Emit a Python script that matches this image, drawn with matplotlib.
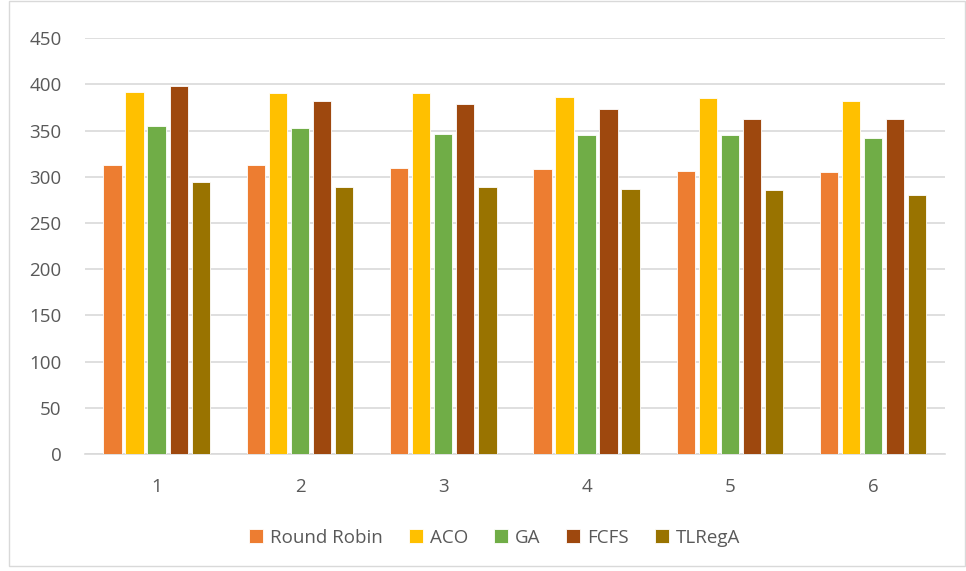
import matplotlib.pyplot as plt
import numpy as np
from matplotlib.patches import Rectangle

# Per-run values for each scheduling algorithm
runs = [1, 2, 3, 4, 5, 6]
round_robin = [313, 312.5, 309.5, 308, 306.5, 305.5]
aco = [392, 390.5, 390.5, 386, 385.5, 382]
ga = [355, 353, 346, 345.5, 345, 342.5]
fcfs = [398, 382.5, 378.5, 373.5, 363, 362.5]
tlrega = [294.5, 289, 289, 287, 286, 280.5]

series = [
    ("Round Robin", round_robin, "#ED7D31"),
    ("ACO", aco, "#FFC000"),
    ("GA", ga, "#70AD47"),
    ("FCFS", fcfs, "#9E480E"),
    ("TLRegA", tlrega, "#997300"),
]

plt.rcParams['font.family'] = ['Open Sans', 'DejaVu Sans']
text_color = "#595959"

fig = plt.figure(figsize=(9.66, 5.71), dpi=100)
ax = fig.add_axes([0.088, 0.205, 0.890, 0.728])

x = np.arange(len(runs))
step = 0.154
width = 0.128
for i, (name, vals, color) in enumerate(series):
    ax.bar(x + (i - 2) * step, vals, width, color=color, label=name,
           edgecolor="white", linewidth=0.6, zorder=3)

ax.set_ylim(0, 450)
ax.set_yticks(range(0, 451, 50))
ax.set_xlim(-0.5, len(runs) - 0.5)
ax.set_xticks(x)
ax.set_xticklabels([str(r) for r in runs])
ax.grid(axis="y", color="#D9D9D9", linewidth=1.2, zorder=0)
for side in ["top", "right", "left"]:
    ax.spines[side].set_visible(False)
ax.spines["bottom"].set_color("#D9D9D9")
ax.spines["bottom"].set_linewidth(1.2)
ax.tick_params(axis="both", length=0, labelsize=13.5, colors=text_color)
ax.tick_params(axis="x", pad=17)
ax.tick_params(axis="y", pad=17)

leg = fig.legend(loc="center", bbox_to_anchor=(0.512, 0.058), ncol=5, frameon=False,
                 fontsize=13.5, handlelength=0.75, handleheight=0.75,
                 handletextpad=0.35, columnspacing=1.4)
for t in leg.get_texts():
    t.set_color(text_color)

# light chart border
fig.patches.append(Rectangle((0.009, 0.008), 0.99, 0.99, transform=fig.transFigure,
                             fill=False, edgecolor="#D9D9D9", linewidth=1.0))

plt.savefig("out.png", dpi=100)
